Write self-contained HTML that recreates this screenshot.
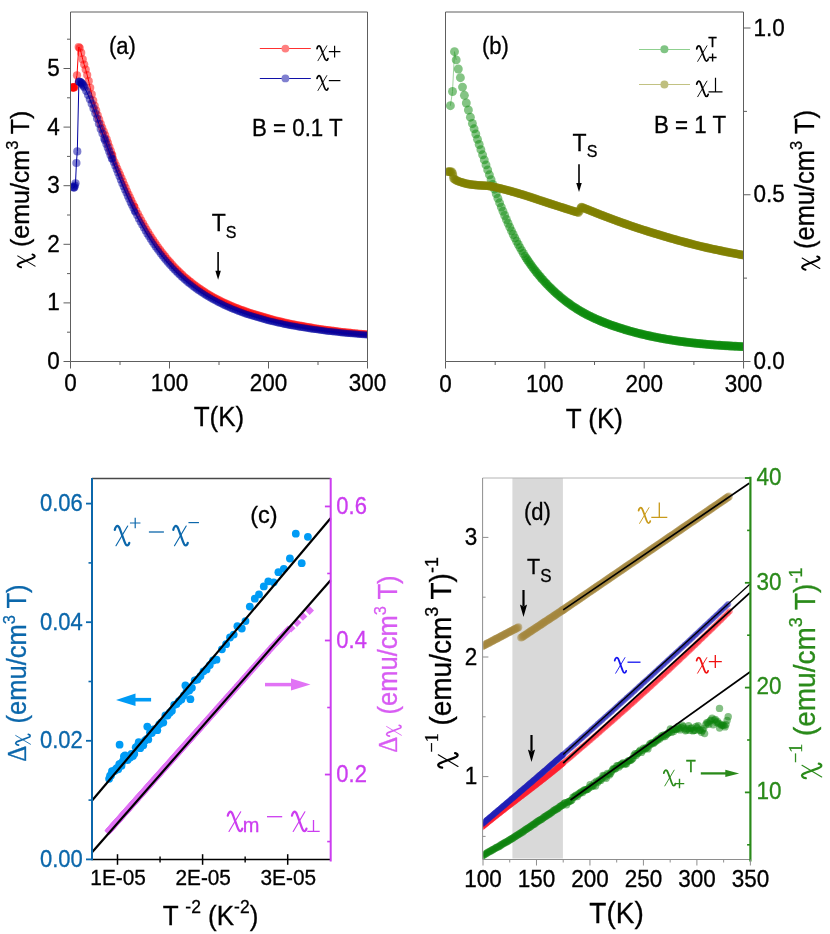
<!DOCTYPE html>
<html><head><meta charset="utf-8"><title>chart</title>
<style>
html,body{margin:0;padding:0;background:#fff;}
svg{display:block;will-change:transform;}
text{font-family:"Liberation Sans",sans-serif;}
.ser{font-family:"Liberation Serif",serif;}
</style></head><body>
<svg width="830" height="934" viewBox="0 0 830 934">
<defs>
<marker id="mr" markerWidth="12" markerHeight="12" refX="6" refY="6" markerUnits="userSpaceOnUse"><circle cx="6" cy="6" r="4.1" fill="#ff0000" fill-opacity="0.5"/></marker>
<marker id="mb" markerWidth="12" markerHeight="12" refX="6" refY="6" markerUnits="userSpaceOnUse"><circle cx="6" cy="6" r="4.1" fill="#0000a0" fill-opacity="0.5"/></marker>
<marker id="mr2" markerWidth="12" markerHeight="12" refX="6" refY="6" markerUnits="userSpaceOnUse"><circle cx="6" cy="6" r="3.5" fill="#ff0000" fill-opacity="0.5"/></marker>
<marker id="mb2" markerWidth="12" markerHeight="12" refX="6" refY="6" markerUnits="userSpaceOnUse"><circle cx="6" cy="6" r="3.5" fill="#0000a0" fill-opacity="0.5"/></marker>
<marker id="mg" markerWidth="12" markerHeight="12" refX="6" refY="6" markerUnits="userSpaceOnUse"><circle cx="6" cy="6" r="4.45" fill="#0a8a0a" fill-opacity="0.5"/></marker>
<marker id="mo" markerWidth="12" markerHeight="12" refX="6" refY="6" markerUnits="userSpaceOnUse"><circle cx="6" cy="6" r="4.3" fill="#808000" fill-opacity="0.5"/></marker>
<marker id="mc" markerWidth="12" markerHeight="12" refX="6" refY="6" markerUnits="userSpaceOnUse"><circle cx="6" cy="6" r="3.9" fill="#009bf5" fill-opacity="1"/></marker>
<marker id="mm" markerWidth="12" markerHeight="12" refX="6" refY="6" markerUnits="userSpaceOnUse"><path d="M6,1.5999999999999996 L10.4,6 L6,10.4 L1.5999999999999996,6 Z" fill="#e173f5" fill-opacity="1"/></marker>
<marker id="mt" markerWidth="12" markerHeight="12" refX="6" refY="6" markerUnits="userSpaceOnUse"><circle cx="6" cy="6" r="3.9" fill="#a4863c" fill-opacity="0.5"/></marker>
<marker id="dr" markerWidth="12" markerHeight="12" refX="6" refY="6" markerUnits="userSpaceOnUse"><circle cx="6" cy="6" r="2.95" fill="#ff2030" fill-opacity="0.5"/></marker>
<marker id="db" markerWidth="12" markerHeight="12" refX="6" refY="6" markerUnits="userSpaceOnUse"><circle cx="6" cy="6" r="2.95" fill="#2020b8" fill-opacity="0.5"/></marker>
<marker id="dg" markerWidth="12" markerHeight="12" refX="6" refY="6" markerUnits="userSpaceOnUse"><circle cx="6" cy="6" r="3.7" fill="#0c820c" fill-opacity="0.5"/></marker>
<g id="chi" fill="none" stroke-linecap="round"><path d="M0.3,4.6 C0.8,1.6 2.6,0 3.9,1.2 C4.7,1.9 5.1,3 5.7,4.6 L10.1,16.6 C10.8,18.6 11.5,20.1 12.7,20.1 C13.8,20.1 14.5,19 14.8,17.6" stroke-width="2.25"/><path d="M13.2,0.8 L1.5,20.5" stroke-width="1.15"/></g>
<clipPath id="ca"><rect x="71" y="12" width="296.5" height="349.5"/></clipPath>
<clipPath id="cb"><rect x="446" y="12" width="297.5" height="349.5"/></clipPath>
<clipPath id="cd"><rect x="483.5" y="478" width="266" height="381"/></clipPath>
</defs>
<rect width="830" height="934" fill="#fff"/>
<g clip-path="url(#ca)"><polyline points="72.6,87.4 72.9,87.2 73.2,87.6 73.5,87.3 73.8,87.5 74.2,87.4 77.0,75.3 78.7,47.0 79.7,48.0 81.2,52.9 82.7,59.4 84.2,64.6 85.7,69.6 87.2,75.1 88.7,81.2 90.2,87.8 91.7,94.4 93.2,100.5 94.7,105.8 96.2,110.7 97.7,115.3 99.2,119.7 100.7,123.9 102.2,127.8 103.7,131.5 105.2,135.3 106.7,139.4 108.0,143.1 109.4,147.2 110.8,151.2 112.2,154.9" fill="none" stroke="#ff0000" stroke-width="1" marker-start="url(#mr)" marker-mid="url(#mr)" marker-end="url(#mr)"/></g>
<g clip-path="url(#ca)"><polyline points="112.2,154.9 113.6,158.4 115.0,161.8 116.4,165.0 117.8,168.2 119.2,171.4 120.6,174.6 122.0,177.8 123.4,181.1 124.8,184.4 126.2,187.6 127.6,190.9 129.0,194.0 130.4,197.1 131.8,200.1 133.2,203.1 134.6,206.0 135.0,206.8 136.7,210.2 138.4,213.5 140.1,216.8 141.8,219.9 143.5,223.0 145.2,226.0 146.9,228.9 148.6,231.7 150.3,234.5 152.0,237.2 153.7,239.8 155.4,242.3 157.1,244.8 158.8,247.2 160.5,249.5 162.2,251.8 163.9,254.0 165.6,256.1 167.3,258.2 169.0,260.2 170.7,262.1 172.4,264.0 174.1,265.9 175.8,267.7 177.5,269.4 179.2,271.1 180.9,272.7 182.6,274.3 184.3,275.9 186.0,277.4 187.7,278.8 189.4,280.2 191.1,281.6 192.8,282.9 194.5,284.2 196.2,285.5 197.9,286.8 199.6,288.0 201.3,289.1 203.0,290.2 204.7,291.3 206.4,292.4 208.1,293.5 209.8,294.5 211.5,295.5 213.2,296.4 214.9,297.4 216.6,298.3 218.3,299.2 220.0,300.0 221.7,300.9 223.4,301.7 225.1,302.5 226.8,303.2 228.5,304.0 230.2,304.8 231.9,305.5 233.6,306.2 235.3,306.9 237.0,307.6 238.7,308.2 240.4,308.9 242.1,309.5 243.8,310.1 245.5,310.7 247.2,311.3 248.9,311.9 250.6,312.4 252.3,313.0 254.0,313.5 255.7,314.1 257.4,314.6 259.1,315.1 260.8,315.6 262.5,316.1 264.2,316.6 265.9,317.1 267.6,317.6 269.3,318.1 271.0,318.6 272.7,319.0 274.4,319.5 276.1,319.9 277.8,320.3 279.5,320.7 281.2,321.1 282.9,321.5 284.6,321.9 286.3,322.3 288.0,322.7 289.7,323.0 291.4,323.4 293.1,323.7 294.8,324.0 296.5,324.4 298.2,324.7 299.9,325.0 301.6,325.3 303.3,325.6 305.0,326.0 306.7,326.2 308.4,326.5 310.1,326.8 311.8,327.1 313.5,327.4 315.2,327.7 316.9,327.9 318.6,328.2 320.3,328.4 322.0,328.7 323.7,328.9 325.4,329.2 327.1,329.4 328.8,329.6 330.5,329.9 332.2,330.1 333.9,330.3 335.6,330.5 337.3,330.7 339.0,330.9 340.7,331.2 342.4,331.4 344.1,331.6 345.8,331.8 347.5,331.9 349.2,332.1 350.9,332.3 352.6,332.5 354.3,332.7 356.0,332.8 357.7,333.0 359.4,333.2 361.1,333.3 362.8,333.5 364.5,333.6 366.2,333.8 367.9,333.9" fill="none" stroke="#ff0000" stroke-width="1" marker-start="url(#mr2)" marker-mid="url(#mr2)" marker-end="url(#mr2)"/></g>
<g clip-path="url(#ca)"><polyline points="73.3,187.0 73.8,187.8 74.3,187.2 74.8,185.5 75.5,183.3 76.4,163.0 77.3,151.4 78.9,81.6 79.6,81.8 80.4,82.2 81.2,82.8 82.0,83.7 82.8,84.7 83.6,85.9 84.5,87.5 86.3,91.1 88.1,95.0 89.9,99.3 91.7,103.7 93.5,108.4 95.3,113.3 97.1,118.5 98.9,123.8 100.7,128.9 102.5,133.6 104.3,138.4 105.0,140.3 106.4,144.0 107.8,147.8 109.2,151.5 110.6,155.2 112.0,158.8" fill="none" stroke="#0000a0" stroke-width="1" marker-start="url(#mb)" marker-mid="url(#mb)" marker-end="url(#mb)"/></g>
<g clip-path="url(#ca)"><polyline points="112.0,158.8 113.4,162.5 114.8,166.1 116.2,169.6 117.6,173.1 119.0,176.6 120.4,180.0 121.8,183.4 123.2,186.7 124.6,189.9 126.0,193.1 127.4,196.3 128.8,199.3 130.2,202.4 131.6,205.3 133.0,208.2 134.4,211.1 135.0,212.3 136.7,215.6 138.4,218.9 140.1,222.0 141.8,225.1 143.5,228.1 145.2,231.0 146.9,233.9 148.6,236.6 150.3,239.3 152.0,241.9 153.7,244.5 155.4,246.9 157.1,249.3 158.8,251.6 160.5,253.9 162.2,256.1 163.9,258.2 165.6,260.3 167.3,262.3 169.0,264.2 170.7,266.1 172.4,268.0 174.1,269.8 175.8,271.5 177.5,273.2 179.2,274.8 180.9,276.4 182.6,278.0 184.3,279.5 186.0,281.0 187.7,282.4 189.4,283.8 191.1,285.1 192.8,286.4 194.5,287.7 196.2,289.0 197.9,290.2 199.6,291.3 201.3,292.5 203.0,293.6 204.7,294.7 206.4,295.7 208.1,296.8 209.8,297.8 211.5,298.7 213.2,299.7 214.9,300.6 216.6,301.5 218.3,302.4 220.0,303.3 221.7,304.1 223.4,304.9 225.1,305.7 226.8,306.5 228.5,307.2 230.2,308.0 231.9,308.7 233.6,309.4 235.3,310.1 237.0,310.7 238.7,311.4 240.4,312.0 242.1,312.7 243.8,313.3 245.5,313.9 247.2,314.4 248.9,315.0 250.6,315.6 252.3,316.1 254.0,316.6 255.7,317.1 257.4,317.6 259.1,318.1 260.8,318.6 262.5,319.1 264.2,319.6 265.9,320.0 267.6,320.4 269.3,320.9 271.0,321.3 272.7,321.7 274.4,322.1 276.1,322.5 277.8,322.9 279.5,323.3 281.2,323.6 282.9,324.0 284.6,324.4 286.3,324.7 288.0,325.0 289.7,325.4 291.4,325.7 293.1,326.0 294.8,326.3 296.5,326.6 298.2,326.9 299.9,327.2 301.6,327.5 303.3,327.8 305.0,328.1 306.7,328.3 308.4,328.6 310.1,328.9 311.8,329.1 313.5,329.4 315.2,329.6 316.9,329.8 318.6,330.1 320.3,330.3 322.0,330.5 323.7,330.7 325.4,331.0 327.1,331.2 328.8,331.4 330.5,331.6 332.2,331.8 333.9,332.0 335.6,332.1 337.3,332.3 339.0,332.5 340.7,332.7 342.4,332.9 344.1,333.0 345.8,333.2 347.5,333.4 349.2,333.5 350.9,333.7 352.6,333.8 354.3,334.0 356.0,334.1 357.7,334.3 359.4,334.4 361.1,334.5 362.8,334.7 364.5,334.8 366.2,334.9 367.9,335.0" fill="none" stroke="#0000a0" stroke-width="1" marker-start="url(#mb2)" marker-mid="url(#mb2)" marker-end="url(#mb2)"/></g>
<line x1="70.50" y1="12.00" x2="70.50" y2="361.50" stroke="#5e5e5e" stroke-width="1" />
<line x1="70.50" y1="361.50" x2="367.50" y2="361.50" stroke="#5e5e5e" stroke-width="1" />
<line x1="70.50" y1="12.00" x2="367.50" y2="12.00" stroke="#5e5e5e" stroke-width="1" />
<line x1="367.50" y1="12.00" x2="367.50" y2="361.50" stroke="#5e5e5e" stroke-width="1" />
<line x1="63.50" y1="361.50" x2="70.50" y2="361.50" stroke="#5e5e5e" stroke-width="1" />
<text transform="translate(59.80,368.90) scale(1,1.05)" font-size="22.5" text-anchor="end" fill="#000" stroke="#000" stroke-width="0.3" >0</text>
<line x1="63.50" y1="302.90" x2="70.50" y2="302.90" stroke="#5e5e5e" stroke-width="1" />
<text transform="translate(59.80,310.30) scale(1,1.05)" font-size="22.5" text-anchor="end" fill="#000" stroke="#000" stroke-width="0.3" >1</text>
<line x1="63.50" y1="244.30" x2="70.50" y2="244.30" stroke="#5e5e5e" stroke-width="1" />
<text transform="translate(59.80,251.70) scale(1,1.05)" font-size="22.5" text-anchor="end" fill="#000" stroke="#000" stroke-width="0.3" >2</text>
<line x1="63.50" y1="185.70" x2="70.50" y2="185.70" stroke="#5e5e5e" stroke-width="1" />
<text transform="translate(59.80,193.10) scale(1,1.05)" font-size="22.5" text-anchor="end" fill="#000" stroke="#000" stroke-width="0.3" >3</text>
<line x1="63.50" y1="127.10" x2="70.50" y2="127.10" stroke="#5e5e5e" stroke-width="1" />
<text transform="translate(59.80,134.50) scale(1,1.05)" font-size="22.5" text-anchor="end" fill="#000" stroke="#000" stroke-width="0.3" >4</text>
<line x1="63.50" y1="68.50" x2="70.50" y2="68.50" stroke="#5e5e5e" stroke-width="1" />
<text transform="translate(59.80,75.90) scale(1,1.05)" font-size="22.5" text-anchor="end" fill="#000" stroke="#000" stroke-width="0.3" >5</text>
<line x1="67.00" y1="332.20" x2="70.50" y2="332.20" stroke="#5e5e5e" stroke-width="1" />
<line x1="67.00" y1="273.60" x2="70.50" y2="273.60" stroke="#5e5e5e" stroke-width="1" />
<line x1="67.00" y1="215.00" x2="70.50" y2="215.00" stroke="#5e5e5e" stroke-width="1" />
<line x1="67.00" y1="156.40" x2="70.50" y2="156.40" stroke="#5e5e5e" stroke-width="1" />
<line x1="67.00" y1="97.80" x2="70.50" y2="97.80" stroke="#5e5e5e" stroke-width="1" />
<line x1="67.00" y1="39.20" x2="70.50" y2="39.20" stroke="#5e5e5e" stroke-width="1" />
<line x1="70.50" y1="361.50" x2="70.50" y2="368.50" stroke="#5e5e5e" stroke-width="1" />
<text transform="translate(70.50,391.20) scale(1,1.05)" font-size="22.5" text-anchor="middle" fill="#000" stroke="#000" stroke-width="0.3" >0</text>
<line x1="169.50" y1="361.50" x2="169.50" y2="368.50" stroke="#5e5e5e" stroke-width="1" />
<text transform="translate(169.50,391.20) scale(1,1.05)" font-size="22.5" text-anchor="middle" fill="#000" stroke="#000" stroke-width="0.3" >100</text>
<line x1="268.50" y1="361.50" x2="268.50" y2="368.50" stroke="#5e5e5e" stroke-width="1" />
<text transform="translate(268.50,391.20) scale(1,1.05)" font-size="22.5" text-anchor="middle" fill="#000" stroke="#000" stroke-width="0.3" >200</text>
<line x1="367.50" y1="361.50" x2="367.50" y2="368.50" stroke="#5e5e5e" stroke-width="1" />
<text transform="translate(367.50,391.20) scale(1,1.05)" font-size="22.5" text-anchor="middle" fill="#000" stroke="#000" stroke-width="0.3" >300</text>
<line x1="120.00" y1="361.50" x2="120.00" y2="365.00" stroke="#5e5e5e" stroke-width="1" />
<line x1="219.00" y1="361.50" x2="219.00" y2="365.00" stroke="#5e5e5e" stroke-width="1" />
<line x1="318.00" y1="361.50" x2="318.00" y2="365.00" stroke="#5e5e5e" stroke-width="1" />
<text transform="translate(219.00,426.00) scale(1,1.05)" font-size="26" text-anchor="middle" fill="#000" stroke="#000" stroke-width="0.3" >T(K)</text>
<g transform="translate(29.3,268) rotate(-90)">
<use href="#chi" stroke="#000" transform="translate(0.50,-12.30) scale(0.880)"/>
<text transform="translate(14.00,0.00) scale(1,1.05)" font-size="25" text-anchor="start" fill="#000" stroke="#000" stroke-width="0.3" xml:space="preserve"> (emu/cm<tspan dy="-11" font-size="16.5">3</tspan><tspan dy="11"> T)</tspan></text>
</g>
<text transform="translate(109.00,54.00) scale(1,1.05)" font-size="22" text-anchor="start" fill="#000" stroke="#000" stroke-width="0.3" >(a)</text>
<text transform="translate(252.00,135.70) scale(1,1.05)" font-size="22.3" text-anchor="start" fill="#000" stroke="#000" stroke-width="0.3" >B = 0.1 T</text>
<text transform="translate(211.70,230.80) scale(1,1.05)" font-size="23" text-anchor="start" fill="#000" stroke="#000" stroke-width="0.3" >T<tspan dy="6.8" font-size="16">S</tspan></text>
<line x1="218.10" y1="252.00" x2="218.10" y2="272.70" stroke="#000" stroke-width="1.6" />
<path d="M218.10,279.70 L215.35,270.70 L218.10,270.70 L220.85,270.70 Z" fill="#000"/>
<line x1="259.80" y1="48.50" x2="310.80" y2="48.50" stroke="#ff3030" stroke-width="1.2" />
<circle cx="285.4" cy="48.6" r="3.9" fill="#ff8080"/>
<line x1="259.80" y1="78.50" x2="310.80" y2="78.50" stroke="#1010a8" stroke-width="1.2" />
<circle cx="285.4" cy="78.4" r="3.9" fill="#8080d0"/>
<use href="#chi" stroke="#000" transform="translate(316.80,45.20) scale(0.757)"/>
<path d="M328.80,51.60 h11.60 M334.60,45.80 v11.60" stroke="#000" stroke-width="1.2" fill="none"/>
<use href="#chi" stroke="#000" transform="translate(316.80,75.00) scale(0.757)"/>
<path d="M328.80,80.60 h11.60" stroke="#000" stroke-width="1.2" fill="none"/>
<polyline points="450.4,105.7 452.5,91.5 454.5,51.7 456.2,59.9" fill="none" stroke="#9fd49f" stroke-width="1"/>
<g clip-path="url(#cb)"><polyline points="450.4,105.7 452.5,91.5 454.5,51.7 456.2,59.9 458.3,69.0 460.4,77.7 462.5,87.1 464.4,95.3 466.3,103.0 468.4,110.0 470.4,117.2 472.4,123.5 474.1,128.8 475.8,134.0 477.5,139.3 479.2,144.5 480.9,149.7 482.6,154.8 484.3,159.9 486.0,164.9 487.7,169.9 489.4,174.8 491.1,179.7 492.8,184.5 494.5,189.2 496.2,193.8 497.9,198.3 499.6,202.8 501.3,207.1 503.0,211.3 504.7,215.5 506.4,219.5 508.1,223.4 509.8,227.2 511.5,230.9 513.2,234.5 514.9,237.9 516.6,241.3 518.3,244.5 520.0,247.6 521.7,250.6 523.4,253.5 525.0,256.1 526.2,258.1 527.5,260.0 528.8,261.8 530.0,263.6 531.2,265.4 532.5,267.1 533.8,268.8 535.0,270.4 536.2,272.0 537.5,273.5 538.8,275.1 540.0,276.5 541.2,278.0 542.5,279.4 543.8,280.8 545.0,282.2 546.2,283.5 547.5,284.8 548.8,286.1 550.0,287.4 551.2,288.6 552.5,289.8 553.8,291.0 555.0,292.2 556.2,293.3 557.5,294.4 558.8,295.5 560.0,296.6 561.2,297.6 562.5,298.7 563.8,299.7 565.0,300.6 566.2,301.6 567.5,302.5 568.8,303.4 570.0,304.3 571.2,305.2 572.5,306.1 573.8,306.9 575.0,307.7 576.2,308.5 577.5,309.3 578.8,310.1 580.0,310.8 581.2,311.5 582.5,312.3 583.8,313.0 585.0,313.6 586.2,314.3 587.5,315.0 588.8,315.6 590.0,316.2 591.2,316.8 592.5,317.4 593.8,318.0 595.0,318.6 596.2,319.2 597.5,319.7 598.8,320.2 600.0,320.8 601.2,321.3 602.5,321.8 603.8,322.3 605.0,322.8 606.2,323.3 607.5,323.7 608.8,324.2 610.0,324.7 611.2,325.1 612.5,325.5 613.8,326.0 615.0,326.4 616.2,326.8 617.5,327.2 618.8,327.6 620.0,328.0 621.2,328.4 622.5,328.8 623.8,329.2 625.0,329.6 626.2,330.0 627.5,330.3 628.8,330.7 630.0,331.1 631.2,331.4 632.5,331.7 633.8,332.1 635.0,332.4 636.2,332.8 637.5,333.1 638.8,333.4 640.0,333.7 641.2,334.0 642.5,334.3 643.8,334.6 645.0,334.9 646.2,335.2 647.5,335.5 648.8,335.8 650.0,336.0 651.2,336.3 652.5,336.6 653.8,336.8 655.0,337.1 656.2,337.3 657.5,337.6 658.8,337.8 660.0,338.1 661.2,338.3 662.5,338.5 663.8,338.7 665.0,339.0 666.2,339.2 667.5,339.4 668.8,339.6 670.0,339.8 671.2,340.0 672.5,340.2 673.8,340.4 675.0,340.6 676.2,340.8 677.5,341.0 678.8,341.1 680.0,341.3 681.2,341.5 682.5,341.6 683.8,341.8 685.0,342.0 686.2,342.1 687.5,342.3 688.8,342.4 690.0,342.6 691.2,342.7 692.5,342.9 693.8,343.0 695.0,343.1 696.2,343.3 697.5,343.4 698.8,343.5 700.0,343.7 701.2,343.8 702.5,343.9 703.8,344.0 705.0,344.1 706.2,344.2 707.5,344.4 708.8,344.5 710.0,344.6 711.2,344.7 712.5,344.8 713.8,344.9 715.0,345.0 716.2,345.1 717.5,345.1 718.8,345.2 720.0,345.3 721.2,345.4 722.5,345.5 723.8,345.6 725.0,345.7 726.2,345.7 727.5,345.8 728.8,345.9 730.0,346.0 731.2,346.0 732.5,346.1 733.8,346.2 735.0,346.2 736.2,346.3 737.5,346.4 738.8,346.4 740.0,346.5 741.2,346.6 742.5,346.6 743.8,346.7" fill="none" stroke="none" marker-start="url(#mg)" marker-mid="url(#mg)" marker-end="url(#mg)"/></g>
<g clip-path="url(#cb)"><polyline points="447.5,171.7 448.3,171.6 449.2,171.8 450.0,171.6 451.0,171.7 452.0,171.9 452.8,173.5 453.2,176.0 453.5,178.5 454.5,179.3 455.5,179.9 456.5,180.5 457.5,180.9 458.5,181.3 459.5,181.7 460.5,182.0 461.5,182.3 462.5,182.6 463.5,182.9 464.5,183.2 465.5,183.5 466.5,183.7 467.5,183.9 468.5,184.1 469.5,184.3 470.5,184.4 471.5,184.6 472.5,184.7 473.5,184.8 474.5,184.9 475.5,185.0 476.5,185.1 477.5,185.2 478.5,185.3 479.5,185.4 480.5,185.4 481.5,185.5 482.5,185.5 483.5,185.6 484.5,185.6 485.5,185.7 486.5,185.8 487.5,185.8 488.5,185.9 489.5,186.1 490.5,186.2 491.5,186.4 492.5,186.6 493.5,186.8 494.5,187.0 495.5,187.3 496.5,187.5 497.5,187.7 498.5,188.0 499.5,188.2 500.5,188.4 501.5,188.7 502.5,189.0 503.5,189.2 504.5,189.5 505.5,189.8 506.5,190.0 507.5,190.3 508.5,190.6 509.5,190.8 510.5,191.1 511.5,191.4 512.5,191.7 513.5,191.9 514.5,192.2 515.5,192.5 516.5,192.8 517.5,193.1 518.5,193.4 519.5,193.7 520.5,194.0 521.5,194.3 522.5,194.6 523.5,194.9 524.5,195.2 525.5,195.5 526.5,195.8 527.5,196.2 528.5,196.5 529.5,196.8 530.5,197.1 531.5,197.5 532.5,197.8 533.5,198.1 534.5,198.5 535.5,198.8 536.5,199.1 537.5,199.5 538.5,199.8 539.5,200.2 540.5,200.5 541.5,200.8 542.5,201.1 543.5,201.5 544.5,201.8 545.5,202.1 546.5,202.5 547.5,202.8 548.5,203.1 549.5,203.4 550.5,203.7 551.5,204.1 552.5,204.4 553.5,204.7 554.5,205.0 555.5,205.4 556.5,205.7 557.5,206.0 558.5,206.3 559.5,206.7 560.5,207.0 561.5,207.3 562.5,207.6 563.5,207.9 564.5,208.3 565.5,208.6 566.5,208.9 567.5,209.2 568.5,209.5 569.5,209.8 570.5,210.2 571.5,210.5 572.5,210.8 573.5,211.1 574.5,211.4 575.5,211.7 576.5,212.0 577.5,212.3 578.5,212.6 579.7,211.0 580.3,209.0 580.9,207.6 581.5,207.1 582.5,207.5 583.5,207.9 584.5,208.3 585.5,208.7 586.5,209.1 587.5,209.5 588.5,209.9 589.5,210.3 590.5,210.7 591.5,211.1 592.5,211.5 593.5,211.9 594.5,212.3 595.5,212.7 596.5,213.1 597.5,213.5 598.5,213.9 599.5,214.3 600.5,214.7 601.5,215.1 602.5,215.4 603.5,215.8 604.5,216.2 605.5,216.6 606.5,217.0 607.5,217.3 608.5,217.7 609.5,218.1 610.5,218.5 611.5,218.8 612.5,219.2 613.5,219.6 614.5,220.0 615.5,220.3 616.5,220.7 617.5,221.1 618.5,221.4 619.5,221.8 620.5,222.2 621.5,222.5 622.5,222.9 623.5,223.2 624.5,223.6 625.5,223.9 626.5,224.3 627.5,224.6 628.5,225.0 629.5,225.3 630.5,225.7 631.5,226.0 632.5,226.4 633.5,226.7 634.5,227.0 635.5,227.4 636.5,227.7 637.5,228.0 638.5,228.4 639.5,228.7 640.5,229.0 641.5,229.3 642.5,229.7 643.5,230.0 644.5,230.3 645.5,230.6 646.5,230.9 647.5,231.3 648.5,231.6 649.5,231.9 650.5,232.2 651.5,232.5 652.5,232.8 653.5,233.1 654.5,233.4 655.5,233.7 656.5,234.0 657.5,234.3 658.5,234.6 659.5,234.9 660.5,235.2 661.5,235.5 662.5,235.8 663.5,236.1 664.5,236.4 665.5,236.7 666.5,237.0 667.5,237.3 668.5,237.6 669.5,237.9 670.5,238.2 671.5,238.5 672.5,238.8 673.5,239.0 674.5,239.3 675.5,239.6 676.5,239.9 677.5,240.2 678.5,240.5 679.5,240.7 680.5,241.0 681.5,241.3 682.5,241.5 683.5,241.8 684.5,242.1 685.5,242.4 686.5,242.6 687.5,242.9 688.5,243.2 689.5,243.4 690.5,243.7 691.5,243.9 692.5,244.2 693.5,244.5 694.5,244.7 695.5,245.0 696.5,245.2 697.5,245.5 698.5,245.7 699.5,246.0 700.5,246.2 701.5,246.5 702.5,246.7 703.5,246.9 704.5,247.2 705.5,247.4 706.5,247.6 707.5,247.9 708.5,248.1 709.5,248.3 710.5,248.5 711.5,248.7 712.5,249.0 713.5,249.2 714.5,249.4 715.5,249.6 716.5,249.8 717.5,250.0 718.5,250.2 719.5,250.4 720.5,250.6 721.5,250.9 722.5,251.1 723.5,251.3 724.5,251.5 725.5,251.7 726.5,251.9 727.5,252.1 728.5,252.3 729.5,252.5 730.5,252.7 731.5,252.9 732.5,253.0 733.5,253.2 734.5,253.4 735.5,253.6 736.5,253.8 737.5,254.0 738.5,254.2 739.5,254.4 740.5,254.6 741.5,254.8 742.5,254.9 743.5,255.1 744.5,255.3" fill="none" stroke="none" marker-start="url(#mo)" marker-mid="url(#mo)" marker-end="url(#mo)"/></g>
<line x1="445.50" y1="12.00" x2="445.50" y2="361.50" stroke="#5e5e5e" stroke-width="1" />
<line x1="445.50" y1="361.50" x2="743.50" y2="361.50" stroke="#5e5e5e" stroke-width="1" />
<line x1="445.50" y1="12.00" x2="743.50" y2="12.00" stroke="#5e5e5e" stroke-width="1" />
<line x1="743.50" y1="12.00" x2="743.50" y2="361.50" stroke="#5e5e5e" stroke-width="1" />
<line x1="743.50" y1="361.50" x2="750.50" y2="361.50" stroke="#5e5e5e" stroke-width="1" />
<text transform="translate(753.60,369.10) scale(1,1.05)" font-size="22.5" text-anchor="start" fill="#000" stroke="#000" stroke-width="0.3" >0.0</text>
<line x1="743.50" y1="194.75" x2="750.50" y2="194.75" stroke="#5e5e5e" stroke-width="1" />
<text transform="translate(753.60,202.35) scale(1,1.05)" font-size="22.5" text-anchor="start" fill="#000" stroke="#000" stroke-width="0.3" >0.5</text>
<line x1="743.50" y1="28.00" x2="750.50" y2="28.00" stroke="#5e5e5e" stroke-width="1" />
<text transform="translate(753.60,35.60) scale(1,1.05)" font-size="22.5" text-anchor="start" fill="#000" stroke="#000" stroke-width="0.3" >1.0</text>
<line x1="743.50" y1="278.12" x2="747.00" y2="278.12" stroke="#5e5e5e" stroke-width="1" />
<line x1="743.50" y1="111.38" x2="747.00" y2="111.38" stroke="#5e5e5e" stroke-width="1" />
<line x1="445.50" y1="361.50" x2="445.50" y2="368.50" stroke="#5e5e5e" stroke-width="1" />
<text transform="translate(445.50,392.00) scale(1,1.05)" font-size="22.5" text-anchor="middle" fill="#000" stroke="#000" stroke-width="0.3" >0</text>
<line x1="544.85" y1="361.50" x2="544.85" y2="368.50" stroke="#5e5e5e" stroke-width="1" />
<text transform="translate(544.85,392.00) scale(1,1.05)" font-size="22.5" text-anchor="middle" fill="#000" stroke="#000" stroke-width="0.3" >100</text>
<line x1="644.20" y1="361.50" x2="644.20" y2="368.50" stroke="#5e5e5e" stroke-width="1" />
<text transform="translate(644.20,392.00) scale(1,1.05)" font-size="22.5" text-anchor="middle" fill="#000" stroke="#000" stroke-width="0.3" >200</text>
<line x1="743.55" y1="361.50" x2="743.55" y2="368.50" stroke="#5e5e5e" stroke-width="1" />
<text transform="translate(743.55,392.00) scale(1,1.05)" font-size="22.5" text-anchor="middle" fill="#000" stroke="#000" stroke-width="0.3" >300</text>
<line x1="495.18" y1="361.50" x2="495.18" y2="365.00" stroke="#5e5e5e" stroke-width="1" />
<line x1="594.52" y1="361.50" x2="594.52" y2="365.00" stroke="#5e5e5e" stroke-width="1" />
<line x1="693.88" y1="361.50" x2="693.88" y2="365.00" stroke="#5e5e5e" stroke-width="1" />
<text transform="translate(594.30,427.50) scale(1,1.05)" font-size="26" text-anchor="middle" fill="#000" stroke="#000" stroke-width="0.3" >T (K)</text>
<g transform="translate(814,270.4) rotate(-90)">
<use href="#chi" stroke="#000" transform="translate(0.50,-12.60) scale(0.900)"/>
<text transform="translate(14.30,0.00) scale(1,1.05)" font-size="25.5" text-anchor="start" fill="#000" stroke="#000" stroke-width="0.3" xml:space="preserve"> (emu/cm<tspan dy="-11" font-size="16.5">3</tspan><tspan dy="11"> T)</tspan></text>
</g>
<text transform="translate(482.00,53.50) scale(1,1.05)" font-size="22" text-anchor="start" fill="#000" stroke="#000" stroke-width="0.3" >(b)</text>
<text transform="translate(654.00,133.30) scale(1,1.05)" font-size="22.3" text-anchor="start" fill="#000" stroke="#000" stroke-width="0.3" >B = 1 T</text>
<text transform="translate(572.60,150.60) scale(1,1.05)" font-size="23" text-anchor="start" fill="#000" stroke="#000" stroke-width="0.3" >T<tspan dy="6.3" font-size="16">S</tspan></text>
<line x1="579.00" y1="164.30" x2="579.00" y2="185.00" stroke="#000" stroke-width="1.6" />
<path d="M579.00,192.00 L576.25,183.00 L579.00,183.00 L581.75,183.00 Z" fill="#000"/>
<line x1="639.00" y1="49.50" x2="690.00" y2="49.50" stroke="#8fd08f" stroke-width="1" />
<circle cx="664.4" cy="49.3" r="4" fill="#80c484"/>
<line x1="639.00" y1="84.50" x2="690.00" y2="84.50" stroke="#c2c282" stroke-width="1" />
<circle cx="664.4" cy="84.4" r="4" fill="#bfbf7f"/>
<use href="#chi" stroke="#000" transform="translate(696.50,45.20) scale(0.790)"/>
<path d="M708.60,57.50 h8.00 M712.60,53.50 v8.00" stroke="#000" stroke-width="1.4" fill="none"/>
<text transform="translate(708.20,46.70) scale(1,1.05)" font-size="14" text-anchor="start" fill="#000" stroke="#000" stroke-width="0.3" >T</text>
<use href="#chi" stroke="#000" transform="translate(696.50,80.50) scale(0.790)"/>
<path d="M708.50,91.80 h14.00 M715.50,91.80 v-14.00" stroke="#000" stroke-width="1.2" fill="none"/>
<g><polyline points="287.9,630.0 285.7,632.4 283.5,634.8 281.3,637.1 279.2,639.4 277.1,641.7 275.0,643.9 272.9,646.1 270.9,648.4 268.9,650.6 266.9,652.9 264.9,655.1 263.0,657.2 261.1,659.4 259.2,661.5 257.4,663.6 255.5,665.7 253.7,667.7 251.9,669.7 250.1,671.7 248.4,673.7 246.6,675.7 244.9,677.6 243.2,679.5 241.6,681.4 239.9,683.2 238.3,685.0 236.7,686.9 235.1,688.7 233.5,690.4 232.0,692.2 230.4,693.9 228.9,695.6 227.4,697.3 225.9,699.0 224.5,700.6 223.0,702.3 221.6,703.9 220.1,705.5 218.7,707.1 217.4,708.6 216.0,710.2 214.6,711.7 213.3,713.2 212.0,714.7 210.6,716.2 209.4,717.6 208.1,719.1 206.8,720.5 205.5,721.9 204.3,723.3 203.1,724.7 201.9,726.1 200.6,727.4 199.5,728.8 198.3,730.1 197.1,731.4 196.0,732.7 194.8,734.0 193.7,735.3 192.6,736.5 191.5,737.8 190.4,739.0 189.3,740.2 188.2,741.4 187.2,742.6 186.1,743.8 185.1,745.0 184.0,746.1 183.0,747.3 182.0,748.4 181.0,749.5 180.0,750.6 179.0,751.7 178.1,752.8 177.1,753.9 176.2,755.0 175.2,756.0 174.3,757.1 173.4,758.1 172.5,759.2 171.5,760.2 170.7,761.2 169.8,762.2 168.9,763.2 168.0,764.2 167.2,765.1 166.3,766.1 165.5,767.0 164.6,768.0 163.8,768.9 163.0,769.8 162.2,770.8 161.3,771.7 160.5,772.6 159.8,773.5 159.0,774.3 158.2,775.2 157.4,776.1 156.7,776.9 155.9,777.8 155.2,778.6 154.4,779.5 153.7,780.3 152.9,781.1 152.2,781.9 151.5,782.7 150.8,783.5 150.1,784.3 149.4,785.1 148.7,785.9 148.0,786.7 147.3,787.4 146.7,788.2 146.0,788.9 145.3,789.7 144.7,790.4 144.0,791.2 143.4,791.9 142.8,792.6 142.1,793.3 141.5,794.0 140.9,794.7 140.3,795.4 139.6,796.1 139.0,796.8 138.4,797.5 137.8,798.1 137.2,798.8 136.7,799.5 136.1,800.1 135.5,800.8 134.9,801.4 134.4,802.0 133.8,802.7 133.2,803.3 132.7,803.9 132.1,804.5 131.6,805.2 131.1,805.8 130.5,806.4 130.0,807.0 129.5,807.6 128.9,808.1 128.4,808.7 127.9,809.3 127.4,809.9 126.9,810.4 126.4,811.0 125.9,811.6 125.4,812.1 124.9,812.7 124.4,813.2 123.9,813.8 123.5,814.3 123.0,814.8 122.5,815.4 122.0,815.9 121.6,816.4 121.1,816.9 120.7,817.5 120.2,818.0 119.8,818.5 119.3,819.0 118.9,819.5 118.4,820.0 118.0,820.5 117.6,820.9 117.1,821.4 116.7,821.9 116.3,822.4 115.9,822.9 115.5,823.3 115.0,823.8 114.6,824.3 114.2,824.7 113.8,825.2 113.4,825.6 113.0,826.1 112.6,826.5 112.2,827.0 111.8,827.4 111.5,827.8 111.1,828.3 110.7,828.7 110.3,829.1 109.9,829.5 109.6,830.0 109.2,830.4 108.8,830.8 291.1,628.2 297.0,622.6 302.9,616.4 309.6,610.5" fill="none" stroke="none" marker-start="url(#mm)" marker-mid="url(#mm)" marker-end="url(#mm)"/></g>
<g><polyline points="295.8,533.7 307.9,536.8 289.9,558.5 301.7,563.2 283.8,568.8 278.4,572.2 273.7,582.3 268.3,581.3 263.8,586.4 259.0,594.4 254.8,598.7 249.8,606.6 245.5,621.1 241.8,628.5 237.4,626.2 233.7,634.6 230.0,637.5 226.1,644.2 221.9,649.3 216.5,659.7 213.1,660.4 209.8,665.1 206.6,669.4 203.5,671.3 200.5,676.1 197.5,679.5 194.7,680.3 191.9,687.8 189.2,690.4 186.5,691.7 183.9,695.4 181.4,699.4 178.9,701.2 176.5,704.1 174.2,705.0 171.9,710.7 169.7,712.7 167.5,715.5 165.4,715.4 163.3,722.6 161.2,722.7 159.3,724.3 157.3,730.2 155.4,729.3 153.6,729.4 151.8,733.1 150.0,732.4 148.3,739.4 146.6,739.2 144.9,740.7 143.3,745.3 141.7,743.1 140.2,748.2 138.7,742.2 137.2,746.5 135.7,747.3 134.3,753.7 132.9,755.9 131.5,753.8 130.2,757.5 128.9,757.2 127.6,760.1 126.3,759.2 125.1,755.3 123.9,756.5 122.7,761.4 121.5,765.8 120.4,764.0 119.3,764.1 118.2,769.3 117.1,767.8 116.0,768.9 115.0,770.4 114.0,770.9 113.0,771.8 112.0,771.2 111.0,775.4 110.1,775.6 109.1,778.8 119.6,744.7 147.3,726.6 185.4,685.4 190.4,699.2" fill="none" stroke="none" marker-start="url(#mc)" marker-mid="url(#mc)" marker-end="url(#mc)"/></g>
<line x1="92.30" y1="800.30" x2="330.60" y2="518.30" stroke="#000" stroke-width="2.2" />
<line x1="92.30" y1="852.00" x2="330.60" y2="580.30" stroke="#000" stroke-width="2.2" />
<line x1="92.00" y1="478.60" x2="330.70" y2="478.60" stroke="#484848" stroke-width="1.5" />
<line x1="92.00" y1="859.50" x2="330.70" y2="859.50" stroke="#000" stroke-width="1.6" />
<line x1="92.00" y1="477.90" x2="92.00" y2="860.30" stroke="#0b67ab" stroke-width="2" />
<line x1="330.70" y1="477.90" x2="330.70" y2="861.40" stroke="#cc3df0" stroke-width="2" />
<line x1="86.00" y1="859.40" x2="92.00" y2="859.40" stroke="#0b67ab" stroke-width="1.8" />
<text transform="translate(82.80,867.00) scale(1,1.05)" font-size="22" text-anchor="end" fill="#0b67ab" stroke="#0b67ab" stroke-width="0.3" >0.00</text>
<line x1="86.00" y1="740.80" x2="92.00" y2="740.80" stroke="#0b67ab" stroke-width="1.8" />
<text transform="translate(82.80,748.40) scale(1,1.05)" font-size="22" text-anchor="end" fill="#0b67ab" stroke="#0b67ab" stroke-width="0.3" >0.02</text>
<line x1="86.00" y1="622.20" x2="92.00" y2="622.20" stroke="#0b67ab" stroke-width="1.8" />
<text transform="translate(82.80,629.80) scale(1,1.05)" font-size="22" text-anchor="end" fill="#0b67ab" stroke="#0b67ab" stroke-width="0.3" >0.04</text>
<line x1="86.00" y1="503.60" x2="92.00" y2="503.60" stroke="#0b67ab" stroke-width="1.8" />
<text transform="translate(82.80,511.20) scale(1,1.05)" font-size="22" text-anchor="end" fill="#0b67ab" stroke="#0b67ab" stroke-width="0.3" >0.06</text>
<line x1="88.50" y1="800.10" x2="92.00" y2="800.10" stroke="#0b67ab" stroke-width="1.6" />
<line x1="88.50" y1="681.50" x2="92.00" y2="681.50" stroke="#0b67ab" stroke-width="1.6" />
<line x1="88.50" y1="562.90" x2="92.00" y2="562.90" stroke="#0b67ab" stroke-width="1.6" />
<line x1="324.90" y1="774.55" x2="330.70" y2="774.55" stroke="#cc3df0" stroke-width="1.8" />
<text transform="translate(336.30,782.15) scale(1,1.05)" font-size="22" text-anchor="start" fill="#cc3df0" stroke="#cc3df0" stroke-width="0.3" >0.2</text>
<line x1="324.90" y1="640.50" x2="330.70" y2="640.50" stroke="#cc3df0" stroke-width="1.8" />
<text transform="translate(336.30,648.10) scale(1,1.05)" font-size="22" text-anchor="start" fill="#cc3df0" stroke="#cc3df0" stroke-width="0.3" >0.4</text>
<line x1="324.90" y1="506.45" x2="330.70" y2="506.45" stroke="#cc3df0" stroke-width="1.8" />
<text transform="translate(336.30,514.05) scale(1,1.05)" font-size="22" text-anchor="start" fill="#cc3df0" stroke="#cc3df0" stroke-width="0.3" >0.6</text>
<line x1="327.20" y1="841.58" x2="330.70" y2="841.58" stroke="#cc3df0" stroke-width="1.6" />
<line x1="327.20" y1="707.52" x2="330.70" y2="707.52" stroke="#cc3df0" stroke-width="1.6" />
<line x1="327.20" y1="573.48" x2="330.70" y2="573.48" stroke="#cc3df0" stroke-width="1.6" />
<line x1="117.50" y1="854.20" x2="117.50" y2="864.80" stroke="#000" stroke-width="1.5" />
<text transform="translate(118.10,885.30) scale(1,1.05)" font-size="20.8" text-anchor="middle" fill="#000" stroke="#000" stroke-width="0.3" >1E-05</text>
<line x1="202.60" y1="854.20" x2="202.60" y2="864.80" stroke="#000" stroke-width="1.5" />
<text transform="translate(203.20,885.30) scale(1,1.05)" font-size="20.8" text-anchor="middle" fill="#000" stroke="#000" stroke-width="0.3" >2E-05</text>
<line x1="287.70" y1="854.20" x2="287.70" y2="864.80" stroke="#000" stroke-width="1.5" />
<text transform="translate(288.30,885.30) scale(1,1.05)" font-size="20.8" text-anchor="middle" fill="#000" stroke="#000" stroke-width="0.3" >3E-05</text>
<line x1="160.05" y1="856.50" x2="160.05" y2="862.50" stroke="#000" stroke-width="1.4" />
<line x1="245.15" y1="856.50" x2="245.15" y2="862.50" stroke="#000" stroke-width="1.4" />
<text transform="translate(210.50,925.00) scale(1,1.05)" font-size="26" text-anchor="middle" fill="#000" stroke="#000" stroke-width="0.3" xml:space="preserve">T <tspan dy="-11" font-size="17.5">-2</tspan><tspan dy="11"> (K</tspan><tspan dy="-11" font-size="17.5">-2</tspan><tspan dy="11">)</tspan></text>
<g transform="translate(26.3,762) rotate(-90)">
<text transform="translate(0.30,0.00) scale(1,1.05)" font-size="25" text-anchor="start" fill="#0b67ab" stroke="#0b67ab" stroke-width="0.3" class="ser" >Δ</text>
<use href="#chi" stroke="#0b67ab" transform="translate(16.60,-11.20) scale(0.750)"/>
<text transform="translate(31.50,0.00) scale(1,1.05)" font-size="25.5" text-anchor="start" fill="#0b67ab" stroke="#0b67ab" stroke-width="0.3" xml:space="preserve"> (emu/cm<tspan dy="-10.5" font-size="16.5">3</tspan><tspan dy="10.5"> T)</tspan></text>
</g>
<g transform="translate(397.2,753) rotate(-90)">
<text transform="translate(0.30,0.00) scale(1,1.05)" font-size="25" text-anchor="start" fill="#d85cf3" stroke="#d85cf3" stroke-width="0.3" class="ser" >Δ</text>
<use href="#chi" stroke="#d85cf3" transform="translate(16.60,-11.20) scale(0.750)"/>
<text transform="translate(31.50,0.00) scale(1,1.05)" font-size="25.5" text-anchor="start" fill="#d85cf3" stroke="#d85cf3" stroke-width="0.3" xml:space="preserve"> (emu/cm<tspan dy="-10.5" font-size="16.5">3</tspan><tspan dy="10.5"> T)</tspan></text>
</g>
<text transform="translate(250.30,522.80) scale(1,1.05)" font-size="23.5" text-anchor="start" fill="#000" stroke="#000" stroke-width="0.3" >(c)</text>
<use href="#chi" stroke="#0b67ab" transform="translate(114.50,525.20) scale(1.000)"/>
<path d="M129.95,523.00 h10.50 M135.20,517.75 v10.50" stroke="#0b67ab" stroke-width="1.2" fill="none"/>
<path d="M148.90,532.00 h15.00" stroke="#0b67ab" stroke-width="1.3" fill="none"/>
<use href="#chi" stroke="#0b67ab" transform="translate(173.00,525.20) scale(1.000)"/>
<path d="M188.45,522.60 h10.50" stroke="#0b67ab" stroke-width="1.2" fill="none"/>
<use href="#chi" stroke="#cc3df0" transform="translate(227.50,811.00) scale(1.000)"/>
<text transform="translate(242.70,831.90) scale(1,1.05)" font-size="20" text-anchor="start" fill="#cc3df0" stroke="#cc3df0" stroke-width="0.3" >m</text>
<path d="M267.00,816.70 h15.20" stroke="#cc3df0" stroke-width="1.3" fill="none"/>
<use href="#chi" stroke="#cc3df0" transform="translate(291.70,811.00) scale(1.000)"/>
<path d="M307.30,831.30 h12.40 M313.50,831.30 v-11.40" stroke="#cc3df0" stroke-width="1.3" fill="none"/>
<path d="M151.1,699.7 H133" stroke="#009bf5" stroke-width="3.6" fill="none"/><path d="M116,699.9 L135.5,693.6 L135.5,706 Z" fill="#009bf5"/>
<path d="M265,684.6 H293" stroke="#e173f5" stroke-width="3.5" fill="none"/><path d="M310.5,684.6 L291,678.6 L291,690.6 Z" fill="#e173f5"/>
<rect x="512.4" y="478" width="50.5" height="380.5" fill="#d9d9d9"/>
<g clip-path="url(#cd)"><polyline points="481.0,646.8 482.1,646.3 483.1,645.7 484.2,645.2 485.3,644.6 486.3,644.0 487.4,643.5 488.5,642.9 489.6,642.4 490.6,641.8 491.7,641.2 492.8,640.7 493.8,640.1 494.9,639.5 496.0,639.0 497.0,638.4 498.1,637.9 499.2,637.3 500.3,636.7 501.3,636.2 502.4,635.6 503.5,635.1 504.5,634.5 505.6,633.9 506.7,633.4 507.7,632.8 508.8,632.2 509.9,631.7 511.0,631.1 512.0,630.6 513.1,630.0 514.2,629.4 515.2,628.9 516.3,628.3 517.4,627.8 518.4,627.2" fill="none" stroke="none" marker-start="url(#mt)" marker-mid="url(#mt)" marker-end="url(#mt)"/></g>
<g clip-path="url(#cd)"><polyline points="521.1,637.6 522.2,636.9 523.2,636.2 524.3,635.5 525.4,634.8 526.5,634.1 527.5,633.4 528.6,632.6 529.7,631.9 530.7,631.2 531.8,630.5 532.9,629.8 533.9,629.1 535.0,628.4 536.1,627.7 537.2,627.0 538.2,626.3 539.3,625.6 540.4,624.9 541.4,624.2 542.5,623.5 543.6,622.7 544.6,622.0 545.7,621.3 546.8,620.6 547.9,619.9 548.9,619.2 550.0,618.5 551.1,617.8 552.1,617.1 553.2,616.4 554.3,615.7 555.3,615.0 556.4,614.3 557.5,613.5 558.6,612.8 559.6,612.1 560.7,611.4 561.8,610.7 562.8,610.0 563.0,609.9 564.1,609.2 565.1,608.4 566.2,607.7 567.3,607.0 568.4,606.2 569.4,605.5 570.5,604.8 571.6,604.0 572.6,603.3 573.7,602.6 574.8,601.9 575.8,601.1 576.9,600.4 578.0,599.7 579.1,598.9 580.1,598.2 581.2,597.5 582.3,596.7 583.3,596.0 584.4,595.3 585.5,594.5 586.5,593.8 587.6,593.1 588.7,592.3 589.8,591.6 590.8,590.9 591.9,590.1 593.0,589.4 594.0,588.7 595.1,588.0 596.2,587.2 597.2,586.5 598.3,585.8 599.4,585.0 600.5,584.3 601.5,583.6 602.6,582.8 603.7,582.1 604.7,581.4 605.8,580.6 606.9,579.9 607.9,579.2 609.0,578.4 610.1,577.7 611.2,577.0 612.2,576.2 613.3,575.5 614.4,574.8 615.4,574.1 616.5,573.3 617.6,572.6 618.6,571.9 619.7,571.1 620.8,570.4 621.9,569.7 622.9,568.9 624.0,568.2 625.1,567.5 626.1,566.7 627.2,566.0 628.3,565.3 629.3,564.5 630.4,563.8 631.5,563.1 632.6,562.4 633.6,561.6 634.7,560.9 635.8,560.2 636.8,559.4 637.9,558.7 639.0,558.0 640.0,557.2 641.1,556.5 642.2,555.8 643.3,555.0 644.3,554.3 645.4,553.6 646.5,552.8 647.5,552.1 648.6,551.4 649.7,550.6 650.7,549.9 651.8,549.2 652.9,548.5 654.0,547.7 655.0,547.0 656.1,546.3 657.2,545.5 658.2,544.8 659.3,544.1 660.4,543.3 661.4,542.6 662.5,541.9 663.6,541.1 664.7,540.4 665.7,539.7 666.8,538.9 667.9,538.2 668.9,537.5 670.0,536.7 671.1,536.0 672.1,535.3 673.2,534.6 674.3,533.8 675.4,533.1 676.4,532.4 677.5,531.6 678.6,530.9 679.6,530.2 680.7,529.4 681.8,528.7 682.8,528.0 683.9,527.2 685.0,526.5 686.1,525.8 687.1,525.0 688.2,524.3 689.3,523.6 690.3,522.8 691.4,522.1 692.5,521.4 693.5,520.7 694.6,519.9 695.7,519.2 696.8,518.5 697.8,517.7 698.9,517.0 700.0,516.3 701.0,515.5 702.1,514.8 703.2,514.1 704.2,513.3 705.3,512.6 706.4,511.9 707.5,511.1 708.5,510.4 709.6,509.7 710.7,508.9 711.7,508.2 712.8,507.5 713.9,506.8 714.9,506.0 716.0,505.3 717.1,504.6 718.2,503.8 719.2,503.1 720.3,502.4 721.4,501.6 722.4,500.9 723.5,500.2 724.6,499.4 725.6,498.7 726.7,498.0 727.8,497.2 728.9,496.5" fill="none" stroke="none" marker-start="url(#mt)" marker-mid="url(#mt)" marker-end="url(#mt)"/></g>
<g clip-path="url(#cd)"><polyline points="481.0,828.0 481.6,827.5 482.1,827.1 482.7,826.6 483.2,826.1 483.8,825.7 484.3,825.2 484.9,824.8 485.4,824.3 486.0,823.9 486.5,823.4 487.1,823.0 487.6,822.5 488.2,822.1 488.7,821.6 489.3,821.2 489.8,820.7 490.4,820.3 490.9,819.9 491.5,819.4 492.0,819.0 492.6,818.5 493.1,818.1 493.7,817.7 494.2,817.2 494.8,816.8 495.3,816.3 495.9,815.9 496.4,815.5 497.0,815.0 497.5,814.6 498.1,814.2 498.6,813.7 499.2,813.3 499.7,812.9 500.3,812.4 500.8,812.0 501.4,811.6 501.9,811.1 502.5,810.7 503.0,810.3 503.6,809.9 504.1,809.4 504.7,809.0 505.2,808.6 505.8,808.1 506.3,807.7 506.9,807.3 507.4,806.9 508.0,806.4 508.5,806.0 509.1,805.6 509.6,805.2 510.2,804.7 510.7,804.3 511.3,803.9 511.8,803.5 512.4,803.0 512.9,802.6 513.5,802.2 514.0,801.8 514.6,801.4 515.1,800.9 515.7,800.5 516.2,800.1 516.8,799.7 517.3,799.2 517.9,798.8 518.4,798.4 519.0,798.0 519.5,797.6 520.1,797.1 520.6,796.7 521.2,796.3 521.7,795.9 522.3,795.5 522.8,795.0 523.4,794.6 523.9,794.2 524.5,793.8 525.0,793.4 525.6,792.9 526.1,792.5 526.7,792.1 527.2,791.7 527.8,791.2 528.3,790.8 528.9,790.4 529.4,790.0 530.0,789.6 530.5,789.1 531.1,788.7 531.6,788.3 532.2,787.9 532.7,787.4 533.3,787.0 533.8,786.6 534.4,786.2 534.9,785.7 535.5,785.3 536.0,784.9 536.6,784.5 537.1,784.0 537.7,783.6 538.2,783.2 538.8,782.8 539.3,782.3 539.9,781.9 540.4,781.5 541.0,781.0 541.5,780.6 542.1,780.2 542.6,779.7 543.2,779.3 543.7,778.9 544.3,778.5 544.8,778.0 545.4,777.6 545.9,777.2 546.5,776.7 547.0,776.3 547.6,775.8 548.1,775.4 548.7,775.0 549.2,774.5 549.8,774.1 550.3,773.7 550.9,773.2 551.4,772.8 552.0,772.3 552.5,771.9 553.1,771.4 553.6,771.0 554.2,770.6 554.7,770.1 555.3,769.7 555.8,769.2 556.4,768.8 556.9,768.3 557.5,767.9 558.0,767.4 558.6,767.0 559.1,766.5 559.7,766.1 560.2,765.6 560.8,765.1 561.3,764.7 561.9,764.2 562.4,763.8 563.0,763.3 563.0,763.3 564.5,762.1 565.9,760.8 567.4,759.6 568.8,758.4 570.3,757.2 571.7,755.9 573.2,754.7 574.6,753.5 576.1,752.3 577.5,751.0 579.0,749.8 580.4,748.6 581.9,747.3 583.3,746.1 584.8,744.9 586.2,743.6 587.7,742.4 589.1,741.1 590.6,739.9 592.0,738.6 593.5,737.4 594.9,736.1 596.4,734.9 597.8,733.6 599.3,732.4 600.7,731.1 602.2,729.8 603.6,728.6 605.1,727.3 606.5,726.1 608.0,724.8 609.4,723.5 610.9,722.3 612.3,721.0 613.8,719.7 615.2,718.4 616.7,717.1 618.1,715.9 619.6,714.6 621.0,713.3 622.5,712.0 623.9,710.7 625.4,709.4 626.8,708.2 628.3,706.9 629.7,705.6 631.2,704.3 632.6,703.0 634.1,701.7 635.5,700.4 637.0,699.1 638.4,697.8 639.9,696.4 641.3,695.1 642.8,693.8 644.2,692.5 645.7,691.2 647.1,689.9 648.6,688.6 650.0,687.2 651.5,685.9 652.9,684.6 654.4,683.3 655.8,681.9 657.3,680.6 658.7,679.3 660.2,677.9 661.6,676.6 663.1,675.2 664.5,673.9 666.0,672.6 667.4,671.2 668.9,669.9 670.3,668.5 671.8,667.2 673.2,665.8 674.7,664.4 676.1,663.1 677.6,661.7 679.0,660.4 680.5,659.0 681.9,657.6 683.4,656.3 684.8,654.9 686.3,653.5 687.7,652.1 689.2,650.8 690.6,649.4 692.1,648.0 693.5,646.6 695.0,645.2 696.4,643.8 697.9,642.4 699.3,641.0 700.8,639.6 702.2,638.2 703.7,636.8 705.1,635.4 706.6,634.0 708.0,632.6 709.5,631.2 710.9,629.8 712.4,628.4 713.8,627.0 715.3,625.6 716.7,624.1 718.2,622.7 719.6,621.3 721.1,619.9 722.5,618.4 724.0,617.0 725.4,615.6 726.9,614.1 728.3,612.7 729.8,611.2" fill="none" stroke="none" marker-start="url(#dr)" marker-mid="url(#dr)" marker-end="url(#dr)"/></g>
<g clip-path="url(#cd)"><polyline points="481.0,825.0 481.6,824.5 482.1,824.1 482.7,823.6 483.2,823.1 483.8,822.7 484.3,822.2 484.9,821.7 485.4,821.3 486.0,820.8 486.5,820.3 487.1,819.8 487.6,819.4 488.2,818.9 488.7,818.4 489.3,818.0 489.8,817.5 490.4,817.0 490.9,816.6 491.5,816.1 492.0,815.6 492.6,815.2 493.1,814.7 493.7,814.2 494.2,813.8 494.8,813.3 495.3,812.8 495.9,812.4 496.4,811.9 497.0,811.4 497.5,811.0 498.1,810.5 498.6,810.0 499.2,809.6 499.7,809.1 500.3,808.6 500.8,808.2 501.4,807.7 501.9,807.2 502.5,806.8 503.0,806.3 503.6,805.8 504.1,805.4 504.7,804.9 505.2,804.4 505.8,804.0 506.3,803.5 506.9,803.0 507.4,802.5 508.0,802.1 508.5,801.6 509.1,801.1 509.6,800.7 510.2,800.2 510.7,799.7 511.3,799.3 511.8,798.8 512.4,798.3 512.9,797.9 513.5,797.4 514.0,796.9 514.6,796.5 515.1,796.0 515.7,795.5 516.2,795.1 516.8,794.6 517.3,794.1 517.9,793.7 518.4,793.2 519.0,792.7 519.5,792.3 520.1,791.8 520.6,791.3 521.2,790.8 521.7,790.4 522.3,789.9 522.8,789.4 523.4,789.0 523.9,788.5 524.5,788.0 525.0,787.6 525.6,787.1 526.1,786.6 526.7,786.2 527.2,785.7 527.8,785.2 528.3,784.7 528.9,784.3 529.4,783.8 530.0,783.3 530.5,782.9 531.1,782.4 531.6,781.9 532.2,781.4 532.7,781.0 533.3,780.5 533.8,780.0 534.4,779.6 534.9,779.1 535.5,778.6 536.0,778.1 536.6,777.7 537.1,777.2 537.7,776.7 538.2,776.2 538.8,775.8 539.3,775.3 539.9,774.8 540.4,774.4 541.0,773.9 541.5,773.4 542.1,772.9 542.6,772.5 543.2,772.0 543.7,771.5 544.3,771.0 544.8,770.6 545.4,770.1 545.9,769.6 546.5,769.1 547.0,768.6 547.6,768.2 548.1,767.7 548.7,767.2 549.2,766.7 549.8,766.3 550.3,765.8 550.9,765.3 551.4,764.8 552.0,764.3 552.5,763.9 553.1,763.4 553.6,762.9 554.2,762.4 554.7,762.0 555.3,761.5 555.8,761.0 556.4,760.5 556.9,760.0 557.5,759.5 558.0,759.1 558.6,758.6 559.1,758.1 559.7,757.6 560.2,757.1 560.8,756.7 561.3,756.2 561.9,755.7 562.4,755.2 563.0,754.7 563.0,754.7 564.5,753.4 565.9,752.1 567.4,750.8 568.8,749.6 570.3,748.3 571.7,747.0 573.2,745.7 574.6,744.4 576.1,743.2 577.5,741.9 579.0,740.6 580.4,739.3 581.9,738.0 583.3,736.7 584.8,735.4 586.2,734.2 587.7,732.9 589.1,731.6 590.6,730.3 592.0,729.0 593.5,727.7 594.9,726.4 596.4,725.1 597.8,723.8 599.3,722.5 600.7,721.2 602.2,719.9 603.6,718.6 605.1,717.3 606.5,716.1 608.0,714.8 609.4,713.5 610.9,712.2 612.3,710.9 613.8,709.6 615.2,708.2 616.7,706.9 618.1,705.6 619.6,704.3 621.0,703.0 622.5,701.7 623.9,700.4 625.4,699.1 626.8,697.8 628.3,696.5 629.7,695.2 631.2,693.9 632.6,692.6 634.1,691.2 635.5,689.9 637.0,688.6 638.4,687.3 639.9,686.0 641.3,684.7 642.8,683.3 644.2,682.0 645.7,680.7 647.1,679.4 648.6,678.1 650.0,676.7 651.5,675.4 652.9,674.1 654.4,672.8 655.8,671.5 657.3,670.1 658.7,668.8 660.2,667.5 661.6,666.1 663.1,664.8 664.5,663.5 666.0,662.1 667.4,660.8 668.9,659.5 670.3,658.1 671.8,656.8 673.2,655.5 674.7,654.1 676.1,652.8 677.6,651.5 679.0,650.1 680.5,648.8 681.9,647.4 683.4,646.1 684.8,644.7 686.3,643.4 687.7,642.1 689.2,640.7 690.6,639.4 692.1,638.0 693.5,636.7 695.0,635.3 696.4,634.0 697.9,632.6 699.3,631.3 700.8,629.9 702.2,628.5 703.7,627.2 705.1,625.8 706.6,624.5 708.0,623.1 709.5,621.8 710.9,620.4 712.4,619.0 713.8,617.7 715.3,616.3 716.7,614.9 718.2,613.6 719.6,612.2 721.1,610.8 722.5,609.5 724.0,608.1 725.4,606.7 726.9,605.3 728.3,604.0" fill="none" stroke="none" marker-start="url(#db)" marker-mid="url(#db)" marker-end="url(#db)"/></g>
<g clip-path="url(#cd)"><polyline points="481.0,856.4 482.1,855.7 483.1,855.5 484.2,854.5 485.3,853.9 486.3,853.6 487.4,852.6 488.5,852.0 489.6,851.6 490.6,850.9 491.7,850.2 492.8,849.7 493.8,849.1 494.9,848.6 496.0,847.7 497.0,847.2 498.1,846.9 499.2,846.4 500.3,845.3 501.3,845.0 502.4,844.1 503.5,843.5 504.5,842.9 505.6,842.3 506.7,841.9 507.7,841.2 508.8,840.5 509.9,839.8 511.0,839.2 512.0,838.5 513.1,838.0 514.2,837.1 515.2,836.5 516.3,835.8 517.4,835.1 518.4,834.5 519.5,833.8 520.6,833.2 521.7,832.3 522.7,831.9 523.8,830.9 524.9,830.1 525.9,829.5 527.0,828.8 528.1,828.1 529.1,827.5 530.2,826.7 531.3,825.9 532.4,825.1 533.4,824.4 534.5,823.9 535.6,823.0 536.6,822.1 537.7,821.5 538.8,820.8 539.8,820.3 540.9,819.4 542.0,819.1 543.1,818.1 544.1,817.3 545.2,816.5 546.3,816.0 547.3,815.2 548.4,814.4 549.5,813.9 550.5,813.1 551.6,812.5 552.7,811.6 553.8,810.5 554.8,810.3 555.9,809.2 557.0,809.0 558.0,808.4 559.1,807.3 560.2,806.5 561.2,805.8 562.3,805.4 563.4,804.3 564.5,803.2 565.5,802.8 566.6,804.7 567.7,802.1 568.7,801.8 569.8,801.1 570.9,800.7 571.9,800.0 573.0,797.3 574.1,797.2 575.2,795.9 576.2,795.2 577.3,796.5 578.4,794.0 579.4,793.8 580.5,792.4 581.6,791.8 582.6,792.6 583.7,790.5 584.8,789.8 585.9,790.1 586.9,789.4 588.0,789.1 589.1,787.7 590.1,784.8 591.2,786.8 592.3,785.9 593.3,785.8 594.4,783.0 595.5,786.0 596.6,781.1 597.6,782.6 598.7,781.1 599.8,779.7 600.8,780.4 601.9,778.5 603.0,775.5 604.0,776.0 605.1,777.1 606.2,778.3 607.3,773.4 608.3,774.3 609.4,775.1 610.5,773.4 611.5,771.6 612.6,769.7 613.7,768.5 614.7,768.9 615.8,768.5 616.9,765.7 618.0,765.6 619.0,767.0 620.1,765.5 621.2,764.3 622.2,764.0 623.3,762.8 624.4,763.9 625.4,764.0 626.5,763.7 627.6,761.4 628.7,760.7 629.7,760.7 630.8,760.3 631.9,759.2 632.9,758.2 634.0,755.4 635.1,753.6 636.1,755.6 637.2,753.8 638.3,753.0 639.4,751.4 640.4,750.2 641.5,752.4 642.6,750.6 643.6,748.2 644.7,749.1 645.8,748.2 646.8,747.7 647.9,748.9 649.0,745.7 650.1,743.6 651.1,744.3 652.2,742.8 653.3,743.4 654.3,742.3 655.4,741.7 656.5,739.9 657.5,740.3 658.6,738.5 659.7,739.0 660.8,737.3 661.8,735.8 662.9,736.8 664.0,734.9 665.0,736.6 666.1,734.8 667.2,734.1 668.2,733.0 669.3,732.2 670.4,729.0 671.5,732.4 672.5,729.8 673.6,731.4 674.7,729.3 675.7,729.4 676.8,728.9 677.9,726.7 678.9,728.5 680.0,729.9 681.1,727.5 682.2,725.3 683.2,726.8 684.3,728.7 685.4,730.8 686.4,730.0 687.5,728.7 688.6,725.7 689.6,730.4 690.7,728.4 691.8,727.9 692.9,730.9 693.9,730.4 695.0,730.3 696.1,726.5 697.1,728.0 698.2,725.6 699.3,730.3 700.3,730.0 701.4,732.2 702.5,730.5 703.6,728.6 704.6,733.6 705.7,724.8 706.8,722.6 707.8,722.9 708.9,724.2 710.0,721.0 711.0,720.1 712.1,718.3 713.2,724.7 714.3,720.1 715.3,719.5 716.4,722.4 717.5,721.5 718.5,723.5 719.6,728.0 720.7,724.2 721.7,725.6 722.8,725.1 723.9,725.4 725.0,726.9 726.0,724.6 727.1,720.4 728.2,716.8 719.5,708.4" fill="none" stroke="none" marker-start="url(#dg)" marker-mid="url(#dg)" marker-end="url(#dg)"/></g>
<line x1="563.20" y1="609.90" x2="749.20" y2="483.30" stroke="#000" stroke-width="1.7" />
<line x1="563.20" y1="754.50" x2="749.80" y2="584.30" stroke="#000" stroke-width="1.25" />
<line x1="563.20" y1="763.10" x2="749.80" y2="592.80" stroke="#000" stroke-width="1.8" />
<line x1="570.50" y1="800.00" x2="750.30" y2="671.80" stroke="#000" stroke-width="1.7" />
<line x1="482.60" y1="478.00" x2="750.40" y2="478.00" stroke="#b4b4b4" stroke-width="1" />
<line x1="482.60" y1="478.00" x2="482.60" y2="859.50" stroke="#8e8e8e" stroke-width="1" />
<line x1="482.60" y1="859.50" x2="750.40" y2="859.50" stroke="#8e8e8e" stroke-width="1" />
<line x1="750.40" y1="476.80" x2="750.40" y2="861.40" stroke="#2a8a1a" stroke-width="2.2" />
<line x1="482.60" y1="776.60" x2="488.40" y2="776.60" stroke="#8e8e8e" stroke-width="1" />
<text transform="translate(477.30,784.20) scale(1,1.05)" font-size="22.5" text-anchor="end" fill="#000" stroke="#000" stroke-width="0.3" >1</text>
<line x1="482.60" y1="657.00" x2="488.40" y2="657.00" stroke="#8e8e8e" stroke-width="1" />
<text transform="translate(477.30,664.60) scale(1,1.05)" font-size="22.5" text-anchor="end" fill="#000" stroke="#000" stroke-width="0.3" >2</text>
<line x1="482.60" y1="537.40" x2="488.40" y2="537.40" stroke="#8e8e8e" stroke-width="1" />
<text transform="translate(477.30,545.00) scale(1,1.05)" font-size="22.5" text-anchor="end" fill="#000" stroke="#000" stroke-width="0.3" >3</text>
<line x1="482.60" y1="836.40" x2="485.60" y2="836.40" stroke="#8e8e8e" stroke-width="1" />
<line x1="482.60" y1="716.80" x2="485.60" y2="716.80" stroke="#8e8e8e" stroke-width="1" />
<line x1="482.60" y1="597.20" x2="485.60" y2="597.20" stroke="#8e8e8e" stroke-width="1" />
<line x1="483.00" y1="859.50" x2="483.00" y2="865.50" stroke="#8e8e8e" stroke-width="1" />
<text transform="translate(483.00,886.80) scale(1,1.05)" font-size="22.5" text-anchor="middle" fill="#000" stroke="#000" stroke-width="0.3" >100</text>
<line x1="536.48" y1="859.50" x2="536.48" y2="865.50" stroke="#8e8e8e" stroke-width="1" />
<text transform="translate(536.48,886.80) scale(1,1.05)" font-size="22.5" text-anchor="middle" fill="#000" stroke="#000" stroke-width="0.3" >150</text>
<line x1="589.95" y1="859.50" x2="589.95" y2="865.50" stroke="#8e8e8e" stroke-width="1" />
<text transform="translate(589.95,886.80) scale(1,1.05)" font-size="22.5" text-anchor="middle" fill="#000" stroke="#000" stroke-width="0.3" >200</text>
<line x1="643.42" y1="859.50" x2="643.42" y2="865.50" stroke="#8e8e8e" stroke-width="1" />
<text transform="translate(643.42,886.80) scale(1,1.05)" font-size="22.5" text-anchor="middle" fill="#000" stroke="#000" stroke-width="0.3" >250</text>
<line x1="696.90" y1="859.50" x2="696.90" y2="865.50" stroke="#8e8e8e" stroke-width="1" />
<text transform="translate(696.90,886.80) scale(1,1.05)" font-size="22.5" text-anchor="middle" fill="#000" stroke="#000" stroke-width="0.3" >300</text>
<line x1="750.38" y1="859.50" x2="750.38" y2="865.50" stroke="#8e8e8e" stroke-width="1" />
<text transform="translate(750.38,886.80) scale(1,1.05)" font-size="22.5" text-anchor="middle" fill="#000" stroke="#000" stroke-width="0.3" >350</text>
<line x1="509.74" y1="859.50" x2="509.74" y2="862.50" stroke="#8e8e8e" stroke-width="1" />
<line x1="563.21" y1="859.50" x2="563.21" y2="862.50" stroke="#8e8e8e" stroke-width="1" />
<line x1="616.69" y1="859.50" x2="616.69" y2="862.50" stroke="#8e8e8e" stroke-width="1" />
<line x1="670.16" y1="859.50" x2="670.16" y2="862.50" stroke="#8e8e8e" stroke-width="1" />
<line x1="723.64" y1="859.50" x2="723.64" y2="862.50" stroke="#8e8e8e" stroke-width="1" />
<line x1="744.90" y1="792.40" x2="750.40" y2="792.40" stroke="#2a8a1a" stroke-width="1.8" />
<text transform="translate(756.50,799.20) scale(1,1.05)" font-size="22.5" text-anchor="start" fill="#2a8a1a" stroke="#2a8a1a" stroke-width="0.3" >10</text>
<line x1="744.90" y1="687.60" x2="750.40" y2="687.60" stroke="#2a8a1a" stroke-width="1.8" />
<text transform="translate(756.50,694.40) scale(1,1.05)" font-size="22.5" text-anchor="start" fill="#2a8a1a" stroke="#2a8a1a" stroke-width="0.3" >20</text>
<line x1="744.90" y1="582.80" x2="750.40" y2="582.80" stroke="#2a8a1a" stroke-width="1.8" />
<text transform="translate(756.50,589.60) scale(1,1.05)" font-size="22.5" text-anchor="start" fill="#2a8a1a" stroke="#2a8a1a" stroke-width="0.3" >30</text>
<line x1="744.90" y1="478.00" x2="750.40" y2="478.00" stroke="#2a8a1a" stroke-width="1.8" />
<text transform="translate(756.50,484.80) scale(1,1.05)" font-size="22.5" text-anchor="start" fill="#2a8a1a" stroke="#2a8a1a" stroke-width="0.3" >40</text>
<line x1="747.10" y1="844.80" x2="750.40" y2="844.80" stroke="#2a8a1a" stroke-width="1.6" />
<line x1="747.10" y1="740.00" x2="750.40" y2="740.00" stroke="#2a8a1a" stroke-width="1.6" />
<line x1="747.10" y1="635.20" x2="750.40" y2="635.20" stroke="#2a8a1a" stroke-width="1.6" />
<line x1="747.10" y1="530.40" x2="750.40" y2="530.40" stroke="#2a8a1a" stroke-width="1.6" />
<text transform="translate(616.50,922.50) scale(1,1.05)" font-size="28" text-anchor="middle" fill="#000" stroke="#000" stroke-width="0.3" >T(K)</text>
<g transform="translate(451.3,768.5) rotate(-90)">
<use href="#chi" stroke="#000" transform="translate(0.50,-13.80) scale(1.000)"/>
<text transform="translate(16.00,0.00) scale(1,1.05)" font-size="28" text-anchor="start" fill="#000" stroke="#000" stroke-width="0.3" xml:space="preserve"><tspan dy="-12.5" font-size="18" class="ser">−1</tspan><tspan dy="12.5"> (emu/cm</tspan><tspan dy="-12.5" font-size="18">3</tspan><tspan dy="12.5"> T)</tspan><tspan dy="-12.5" font-size="18">-1</tspan></text>
</g>
<g transform="translate(815,779) rotate(-90)">
<use href="#chi" stroke="#2a8a1a" transform="translate(0.50,-13.80) scale(1.000)"/>
<text transform="translate(16.00,0.00) scale(1,1.05)" font-size="28" text-anchor="start" fill="#2a8a1a" stroke="#2a8a1a" stroke-width="0.3" xml:space="preserve"><tspan dy="-12.5" font-size="18" class="ser">−1</tspan><tspan dy="12.5"> (emu/cm</tspan><tspan dy="-12.5" font-size="18">3</tspan><tspan dy="12.5"> T)</tspan><tspan dy="-12.5" font-size="18">-1</tspan></text>
</g>
<text transform="translate(524.00,520.00) scale(1,1.05)" font-size="22" text-anchor="start" fill="#000" stroke="#000" stroke-width="0.3" >(d)</text>
<text transform="translate(527.00,574.30) scale(1,1.05)" font-size="21.5" text-anchor="start" fill="#000" stroke="#000" stroke-width="0.3" >T<tspan dy="7.5" font-size="17">S</tspan></text>
<line x1="523.50" y1="590.00" x2="523.50" y2="606.40" stroke="#000" stroke-width="2.2" />
<path d="M523.50,617.00 L519.90,604.40 L523.50,606.40 L527.10,604.40 Z" fill="#000"/>
<line x1="531.50" y1="735.00" x2="531.50" y2="751.40" stroke="#000" stroke-width="2.2" />
<path d="M531.50,762.00 L527.90,749.40 L531.50,751.40 L535.10,749.40 Z" fill="#000"/>
<use href="#chi" stroke="#c99a1a" transform="translate(638.40,507.00) scale(0.800)"/>
<path d="M651.30,517.40 h16.00 M659.30,517.40 v-15.00" stroke="#c99a1a" stroke-width="1.3" fill="none"/>
<use href="#chi" stroke="#1414f0" transform="translate(614.50,657.00) scale(0.790)"/>
<path d="M627.50,662.20 h13.00" stroke="#1414f0" stroke-width="1.3" fill="none"/>
<use href="#chi" stroke="#f01010" transform="translate(696.40,657.00) scale(0.790)"/>
<path d="M708.80,661.60 h13.00 M715.30,655.10 v13.00" stroke="#f01010" stroke-width="1.3" fill="none"/>
<use href="#chi" stroke="#2a8a1a" transform="translate(663.60,769.50) scale(0.800)"/>
<path d="M674.75,783.60 h9.50 M679.50,778.85 v9.50" stroke="#2a8a1a" stroke-width="1.4" fill="none"/>
<text transform="translate(686.00,771.50) scale(1,1.05)" font-size="16" text-anchor="start" fill="#2a8a1a" stroke="#2a8a1a" stroke-width="0.3" >T</text>
<path d="M700.8,773.4 H727" stroke="#2a8a1a" stroke-width="2.3" fill="none"/><path d="M739.2,773.4 L725.3,769.7 L725.3,777.1 Z" fill="#2a8a1a"/>
</svg>
</body></html>
